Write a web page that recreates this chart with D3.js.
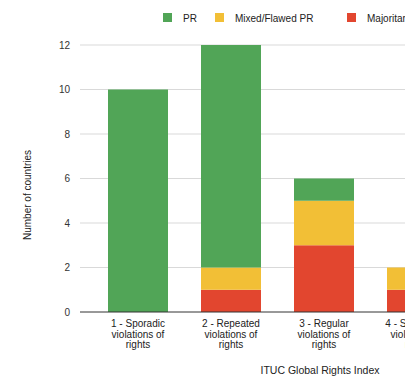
<!DOCTYPE html>
<html lang="en">
<head>
<meta charset="UTF-8">
<title>ITUC Global Rights Index</title>
<script src="https://cdn.jsdelivr.net/npm/d3@7"></script>
<style>
  body { margin: 0; background: #fff; }
  text { font-family: "Liberation Sans", Arial, sans-serif; }
</style>
</head>
<body>
<svg width="405" height="383"></svg>
<script>
// data
const categories = ["1", "2", "3", "4", "5"];
const categoryLabels = [
    ["1 - Sporadic", "violations of", "rights"],
    ["2 - Repeated", "violations of", "rights"],
    ["3 - Regular", "violations of", "rights"],
    ["4 - Systematic", "violations of", "rights"],
    ["5 - No guarantee", "of rights", ""]
];
const majoritarian = [0, 1, 3, 1, 0];
const mixedPR = [0, 1, 2, 1, 0];
const pr = [10, 10, 1, 0, 0];
const seriesKeys = ["Majoritarian", "Mixed/Flawed PR", "PR"];
const legendKeys = ["PR", "Mixed/Flawed PR", "Majoritarian"];
const yTicks = [0, 2, 4, 6, 8, 10, 12];

const colors = {"PR": "#51a557", "Mixed/Flawed PR": "#f2bf36", "Majoritarian": "#e2462f"};

const table = categories.map((c, i) => ({
    cat: c,
    "Majoritarian": majoritarian[i],
    "Mixed/Flawed PR": mixedPR[i],
    "PR": pr[i]
}));
const series = d3.stack().keys(seriesKeys)(table);

const svg = d3.select("svg");

const x = d3.scaleBand()
    .domain(categories)
    .range([91.5, 556.5])
    .paddingInner(0.355)
    .paddingOuter(0.1775);

const y = d3.scaleLinear()
    .domain([0, 12])
    .range([312, 45]);

// grid lines
svg.append("g")
    .selectAll("line")
    .data(yTicks.filter(d => d > 0))
    .join("line")
    .attr("x1", 80).attr("x2", 405)
    .attr("y1", d => y(d)).attr("y2", d => y(d))
    .attr("stroke", "#d9d9d9")
    .attr("stroke-width", 1);

// y labels
svg.append("g")
    .selectAll("text")
    .data(yTicks)
    .join("text")
    .attr("x", 70)
    .attr("y", d => y(d) + 3.5)
    .attr("text-anchor", "end")
    .attr("font-size", 10)
    .attr("fill", "#333")
    .text(d => d);

// bars
svg.append("g")
    .selectAll("g")
    .data(series)
    .join("g")
    .attr("fill", d => colors[d.key])
    .selectAll("rect")
    .data(d => d)
    .join("rect")
    .attr("x", d => x(d.data.cat))
    .attr("y", d => y(d[1]))
    .attr("height", d => y(d[0]) - y(d[1]))
    .attr("width", x.bandwidth());

// baseline
svg.append("line")
    .attr("x1", 80).attr("x2", 405)
    .attr("y1", y(0)).attr("y2", y(0))
    .attr("stroke", "#333")
    .attr("stroke-width", 1);

// x labels
const xl = svg.append("g")
    .selectAll("text")
    .data(categories)
    .join("text")
    .attr("text-anchor", "middle")
    .attr("font-size", 10)
    .attr("fill", "#222");
xl.each(function(d, i) {
    const t = d3.select(this);
    categoryLabels[i].forEach((line, j) => {
        t.append("tspan")
            .attr("x", x(d) + x.bandwidth() / 2)
            .attr("y", 327 + j * 10.5)
            .text(line);
    });
});

// axis titles
svg.append("text")
    .attr("x", 320)
    .attr("y", 374)
    .attr("text-anchor", "middle")
    .attr("font-size", 10.5)
    .attr("fill", "#222")
    .text("ITUC Global Rights Index");

svg.append("text")
    .attr("transform", "translate(31,195) rotate(-90)")
    .attr("text-anchor", "middle")
    .attr("font-size", 10)
    .attr("fill", "#222")
    .text("Number of countries");

// legend
const legendX = [163, 215, 347];
const lg = svg.append("g")
    .selectAll("g")
    .data(legendKeys)
    .join("g")
    .attr("transform", (d, i) => "translate(" + legendX[i] + ",13)");
lg.append("rect")
    .attr("width", 9).attr("height", 9)
    .attr("fill", d => colors[d]);
lg.append("text")
    .attr("x", 20).attr("y", 8.5)
    .attr("font-size", 10)
    .attr("fill", "#222")
    .text(d => d);
</script>
</body>
</html>
